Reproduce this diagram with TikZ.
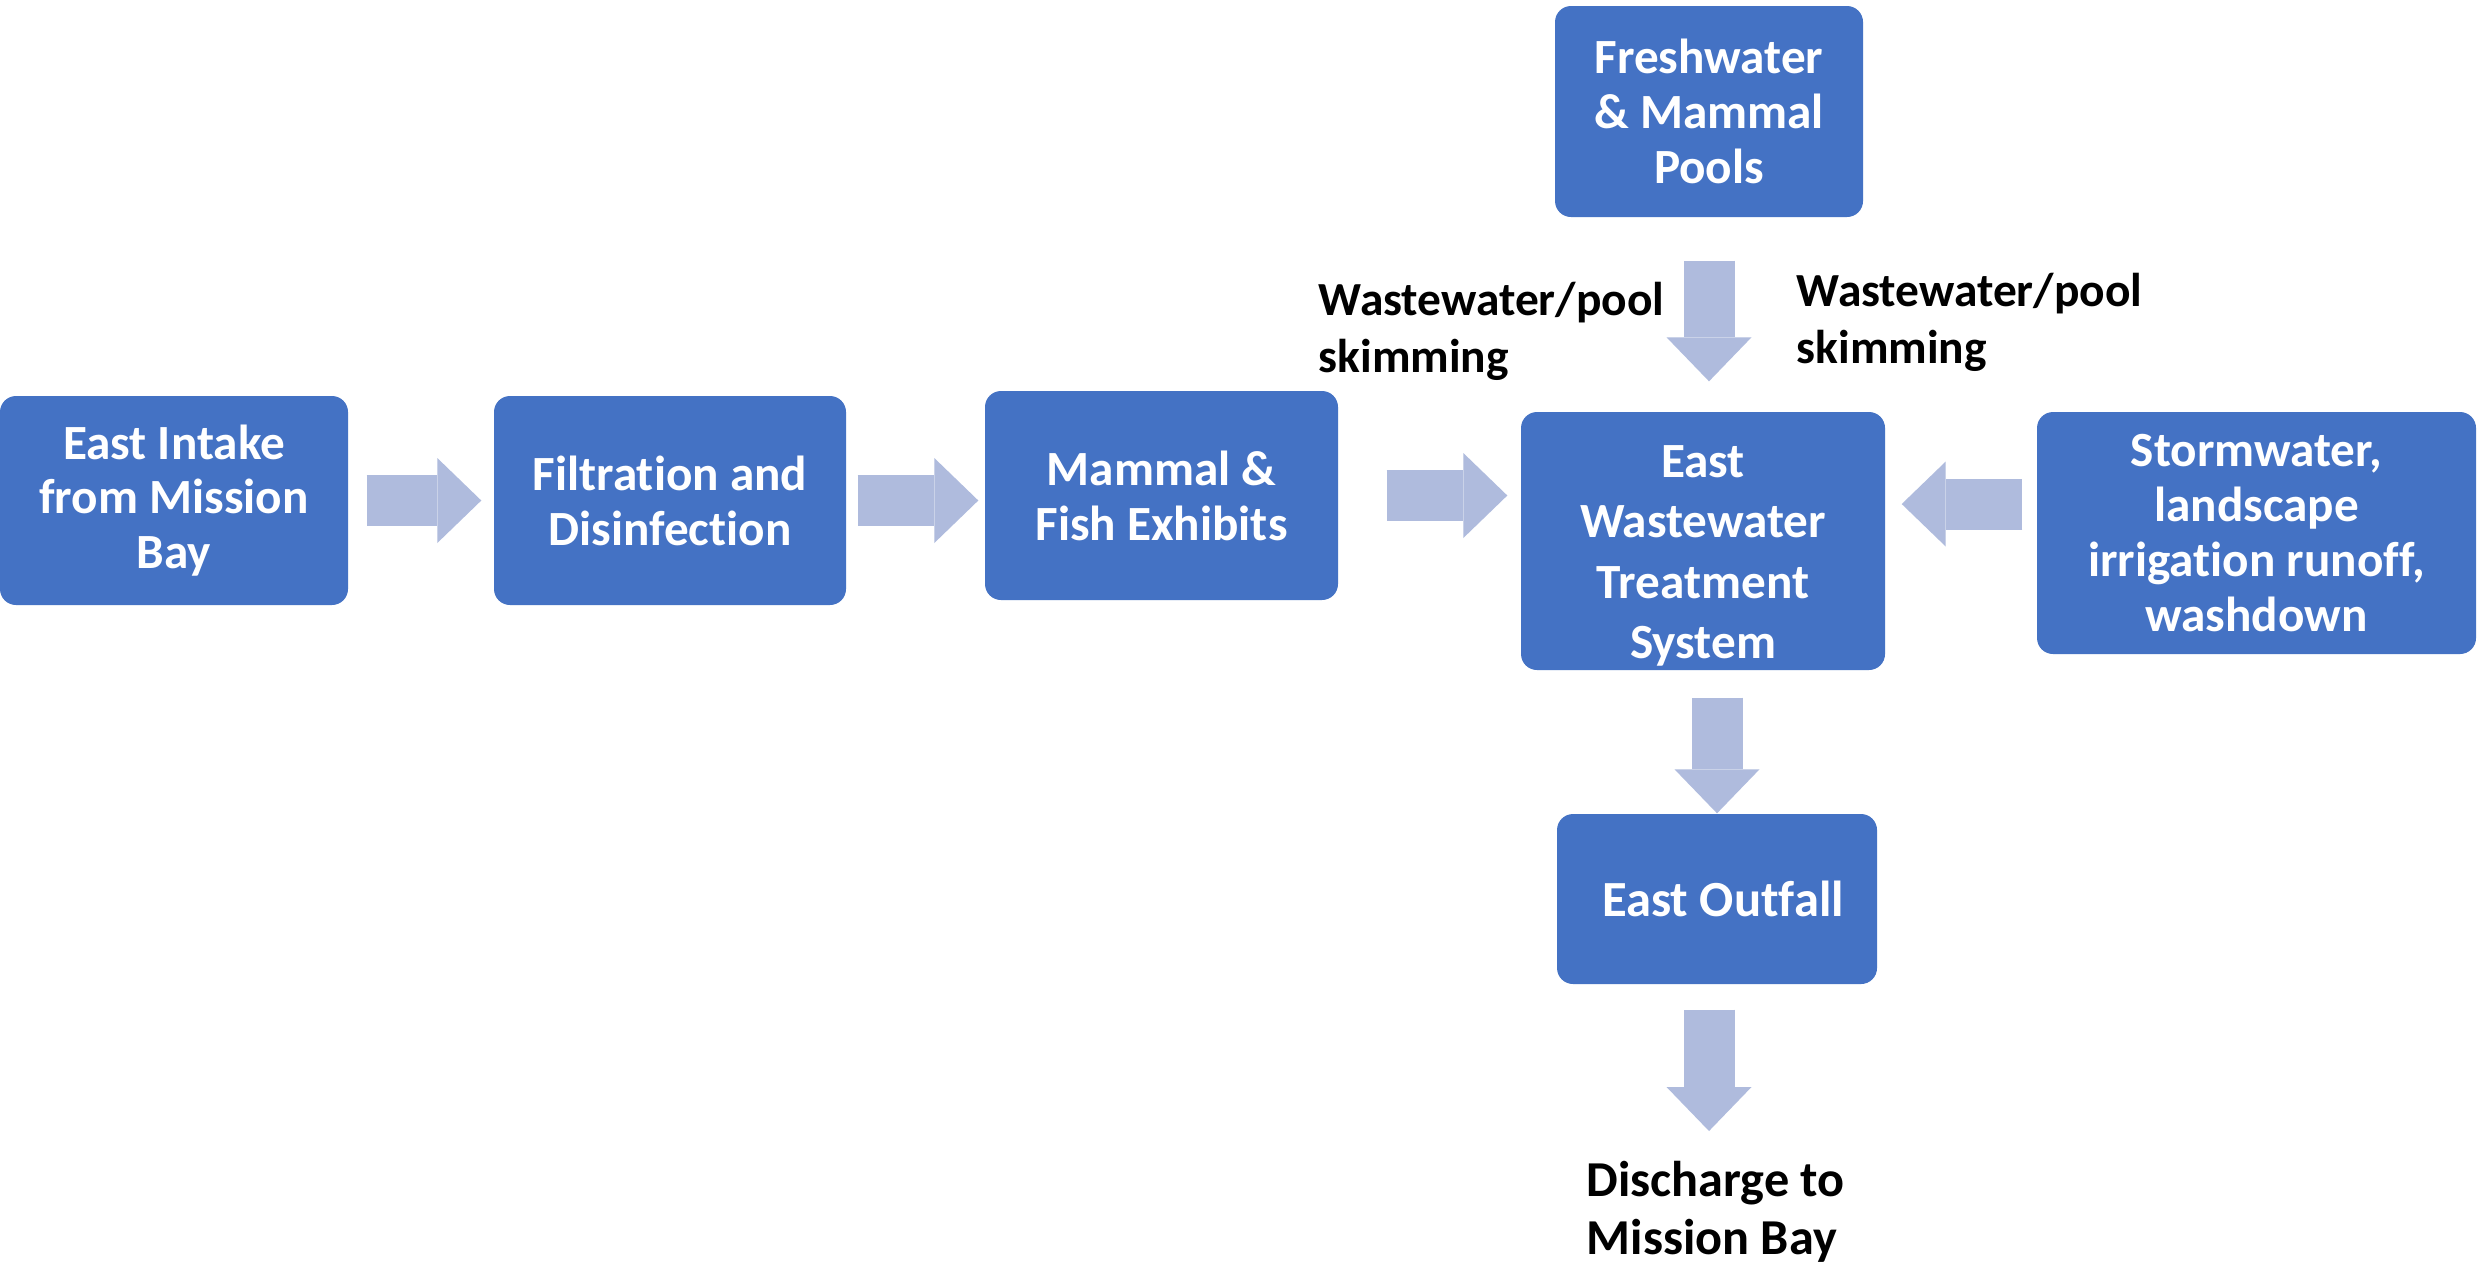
\documentclass[tikz,border=0pt]{standalone}
\usepackage{fontspec}
\setmainfont{Carlito}[Ligatures=NoCommon]
\usetikzlibrary{arrows.meta,calc}
\definecolor{boxblue}{HTML}{4472C4}
\definecolor{arrowblue}{HTML}{AFBBDD}
\begin{document}
\begin{tikzpicture}[x=0.1mm,y=-0.1mm,
  box/.style={draw=none, fill=boxblue, rounded corners=1.6mm, text=white, align=center,
    font=\fontsize{14}{15.6}\selectfont\bfseries, inner sep=0pt},
  flow/.style={draw=arrowblue, line width=5.1mm,
    -{Triangle[length=4.4mm,width=8.5mm,line width=0pt]}},
  lbl/.style={align=left, font=\fontsize{13.5}{16.2}\selectfont\bfseries, inner sep=0pt, anchor=west}]
\useasboundingbox[fill=white] (0,0) rectangle (2484,1268);

\node[box, minimum width=34.8mm, minimum height=20.9mm] (intake) at (174,500.5) {East Intake\\from Mission\\Bay};
\node[box, minimum width=35.2mm, minimum height=20.9mm] (filt) at (670,500.5) {Filtration and\\Disinfection};
\node[box, minimum width=35.3mm, minimum height=20.9mm] (mammal) at (1161.5,495.5) {Mammal \&\\Fish Exhibits};
\node[box, minimum width=36.4mm, minimum height=25.8mm, font=\fontsize{14}{17.2}\selectfont\bfseries] (ewts) at (1703,541) {\rule{0pt}{17.5pt}East\\Wastewater\\Treatment\\System};
\node[box, minimum width=43.9mm, minimum height=24.2mm] (storm) at (2256.5,533) {Stormwater,\\landscape\\irrigation runoff,\\washdown};
\node[box, minimum width=30.8mm, minimum height=21.1mm] (fresh) at (1709,111.5) {Freshwater\\\& Mammal\\Pools};
\node[box, minimum width=32.0mm, minimum height=17.0mm, font=\fontsize{14.4}{16}\selectfont\bfseries] (outfall) at (1717,899) {\hspace*{1.2mm}East Outfall};

\node[lbl] (wl) at (1318,331) {Wastewater/pool\\skimming};
\node[lbl] (wr) at (1796,322) {Wastewater/pool\\skimming};
\node[lbl, font=\fontsize{14.3}{16.6}\selectfont\bfseries] (dis) at (1586,1212) {Discharge to\\Mission Bay};
\coordinate (dend) at (1709,1131);

\draw[flow, shorten <=1.8mm, shorten >=1.2mm] (intake.east) -- (filt.west);
\draw[flow, shorten <=1.1mm, shorten >=0.6mm] (filt.east) -- (filt.east -| mammal.west);
\draw[flow, shorten <=4.8mm, shorten >=1.3mm] (mammal.east) -- (mammal.east -| ewts.west);
\draw[flow, shorten <=1.4mm, shorten >=1.6mm] ([yshift=2.9mm]storm.west) -- ([yshift=2.9mm]storm.west -| ewts.east);
\draw[flow, shorten <=4.3mm, shorten >=3.0mm] (fresh.south) -- (fresh.south |- ewts.north);
\draw[flow, shorten <=2.7mm] (outfall.north |- ewts.south) -- (outfall.north);
\draw[flow, shorten <=2.5mm] (dend |- outfall.south) -- (dend);
\end{tikzpicture}
\end{document}
